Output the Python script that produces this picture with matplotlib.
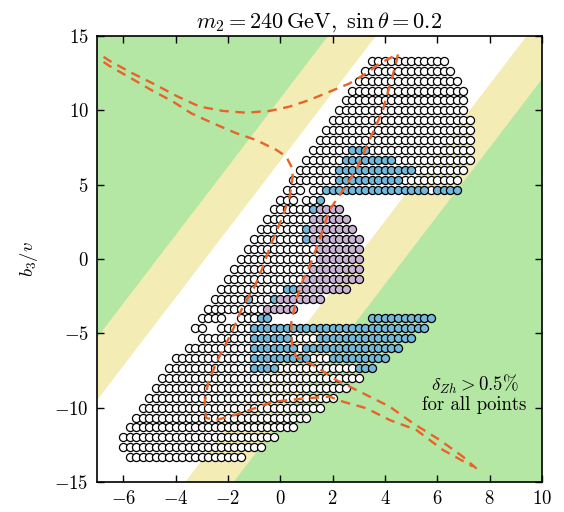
import numpy as np
import matplotlib
matplotlib.use("Agg")
import matplotlib.pyplot as plt

plt.rcParams["font.family"] = "serif"
plt.rcParams["font.serif"] = ["cmr10", "DejaVu Serif"]
plt.rcParams["mathtext.fontset"] = "cm"
plt.rcParams["axes.formatter.use_mathtext"] = True
plt.rcParams["axes.unicode_minus"] = True

# scan spacing along b4/v
X_STEP = 0.25

# allowed-region bands: b3/v = SLOPE * x + offset
SLOPE = 2.3
WHITE_BAND = (-6.65, 6.6)
YELLOW_BAND = (-10.9, 10.8)

# scan points, as runs (b3/v, first x, last x) per category
white_runs = [
    (13.33, 3.5, 6.25), (12.67, 3.25, 6.5), (12.0, 3.0, 6.75), (11.33, 2.75, 7.0),
    (10.67, 2.5, 7.0), (10.0, 2.25, 7.0), (9.33, 2.0, 7.25), (8.67, 1.75, 7.25),
    (8.0, 1.5, 7.25),
    (7.33, 1.25, 2.5), (7.33, 3.5, 7.25),
    (6.67, 1.0, 2.25), (6.67, 4.5, 7.25),
    (6.0, 0.75, 2.0), (6.0, 5.25, 7.0),
    (5.33, 0.5, 2.0), (5.33, 4.75, 6.75),
    (4.67, 0.25, 0.75), (4.67, 1.25, 1.5), (4.67, 5.75, 5.75),
    (4.0, 0.0, 0.5), (4.0, 1.0, 1.25),
    (3.33, -0.25, 1.0),
    (2.67, -0.5, 1.0),
    (2.0, -0.75, 0.75),
    (1.33, -1.0, 0.75),
    (0.67, -1.25, 1.25),
    (0.0, -1.5, 1.25),
    (-0.67, -1.75, 1.0),
    (-1.33, -2.0, 0.75),
    (-2.0, -2.25, 0.0),
    (-2.67, -2.5, -1.5), (-2.67, -1.0, -0.5),
    (-3.33, -2.75, -0.75),
    (-4.0, -3.0, -2.25), (-4.0, -1.5, -1.0),
    (-4.67, -3.25, -3.0), (-4.67, -2.25, -1.25),
    (-5.33, -3.0, -1.25), (-5.33, 0.5, 1.25),
    (-6.0, -3.5, -1.25), (-6.0, 0.75, 0.75),
    (-6.67, -4.0, -1.25), (-6.67, 1.25, 1.75),
    (-7.33, -4.25, -1.25), (-7.33, 0.0, 2.75),
    (-8.0, -4.5, 3.0), (-8.67, -4.75, 2.5), (-9.33, -5.0, 2.0),
    (-10.0, -5.25, 1.5), (-10.67, -5.5, 1.0), (-11.33, -5.75, 0.5),
    (-12.0, -6.0, -0.25), (-12.67, -6.0, -0.75), (-13.33, -5.75, -1.5),
]

blue_runs = [
    (7.33, 2.75, 3.25), (6.67, 2.5, 4.25), (6.0, 2.25, 5.0), (5.33, 2.25, 4.5),
    (4.67, 1.75, 5.5), (4.67, 6.0, 6.75), (4.0, 1.5, 1.5), (3.33, 1.25, 1.25),
    (2.0, 1.0, 1.0), (1.33, 1.0, 1.0), (-2.0, 0.25, 0.5),
    (-2.67, -1.25, -1.25), (-2.67, -0.25, -0.25),
    (-4.0, -0.75, -0.5), (-4.0, 3.5, 5.75),
    (-4.67, -1.0, 5.5),
    (-5.33, -1.0, 0.25), (-5.33, 1.5, 5.0),
    (-6.0, -1.0, 0.5), (-6.0, 1.0, 4.5),
    (-6.67, -1.0, 1.0), (-6.67, 2.0, 4.0),
    (-7.33, -1.0, -0.25), (-7.33, 3.0, 3.5),
]

purple_runs = [
    (3.33, 1.5, 2.25), (2.67, 1.25, 2.5), (2.0, 1.25, 2.75), (1.33, 1.25, 3.0),
    (0.67, 1.5, 3.0), (0.0, 1.5, 3.0), (-0.67, 1.25, 3.0), (-1.33, 1.0, 3.0),
    (-2.0, 0.75, 2.5), (-2.67, 0.0, 1.5), (-3.33, -0.5, 0.5),
]

# dashed contours
contour_a_x = [-6.75, -6.52, -5.69, -4.8, -3.91, -3.08, -2.19, -1.3, -0.41, 0.36, 1.12,
               1.88, 2.65, 3.29, 3.8, 4.18, 4.5,
               4.43, 3.92, 3.41, 2.9, 2.39, 1.88, 1.5, 1.12, 0.87, 0.61, 0.42, 0.45,
               0.61, 1.37, 2.14, 3.16, 4.18, 5.07, 6.09, 6.98, 7.5]
contour_a_y = [13.6, 13.33, 12.53, 11.75, 10.92, 10.25, 9.96, 9.84, 9.96, 10.25, 10.7,
               11.25, 11.81, 12.49, 13.16, 13.5, 13.8,
               13.2, 10.0, 8.0, 6.0, 4.6, 3.3, 1.3, -0.5, -1.4, -2.75, -4.3, -5.9,
               -6.6, -7.24, -8.14, -9.03, -9.93, -11.05, -12.17, -13.3, -14.1]
contour_b_x = [-6.75, -6.52, -5.69, -4.93, -4.1, -3.4, -2.57, -1.68, -0.92, -0.15,
               0.23, 0.42, 0.48, 0.36, 0.04, -0.34,
               -0.66, -0.98, -1.43, -1.81, -2.13, -2.45, -2.76, -2.89, -2.83, -2.45,
               -1.55, -0.28, 0.99, 1.88, 2.4, 3.29, 4.18, 5.2, 6.22, 7.36]
contour_b_y = [13.25, 12.98, 12.15, 11.37, 10.59, 9.8, 9.13, 8.46, 8.0, 7.34,
               6.89, 6.22, 5.55, 4.2, 2.62, 1.05,
               -0.52, -1.86, -3.2, -4.77, -5.9, -7.0, -8.36, -9.7, -10.7, -10.83,
               -10.4, -9.6, -9.37, -9.26, -9.6, -10.04, -10.83, -11.5, -12.85, -13.96]

GREEN = "#b5e7a4"
YELLOW = "#f4ecb5"
BLUE = "#72b9dc"
PURPLE = "#cbb3d6"
ORANGE = "#e8632a"


def expand(runs):
    xs, ys = [], []
    for y, x0, x1 in runs:
        pts = np.arange(x0, x1 + 1e-6, X_STEP)
        xs.extend(pts)
        ys.extend([y] * len(pts))
    return np.array(xs), np.array(ys)


fig = plt.figure(figsize=(5.64, 5.12), dpi=100)
ax = fig.add_axes([0.172, 0.0586, 0.789, 0.8711])
ax.set_xlim(-7, 10)
ax.set_ylim(-15, 15)
ax.set_facecolor(GREEN)

xb = np.array([-7.0, 10.0])
ax.fill_between(xb, SLOPE * xb + YELLOW_BAND[0], SLOPE * xb + YELLOW_BAND[1],
                color=YELLOW, lw=0, zorder=0.5)
ax.fill_between(xb, SLOPE * xb + WHITE_BAND[0], SLOPE * xb + WHITE_BAND[1],
                color="white", lw=0, zorder=0.6)

for runs, col in [(white_runs, "white"), (blue_runs, BLUE), (purple_runs, PURPLE)]:
    px, py = expand(runs)
    ax.scatter(px, py, s=34, facecolor=col, edgecolor="black", linewidths=0.9,
               zorder=2)

for cx, cy in [(contour_a_x, contour_a_y), (contour_b_x, contour_b_y)]:
    ax.plot(cx, cy, color=ORANGE, lw=1.7, dashes=(4, 2.8), zorder=3)

ax.text(7.42, -9.05, "$\\delta_{Zh} > 0.5\\%$\nfor all points", ha="center",
        va="center", fontsize=13.5, linespacing=1.05, multialignment="center")

ax.set_xticks(np.arange(-6, 11, 2))
ax.set_yticks(np.arange(-15, 16, 5))
ax.tick_params(direction="in", length=5, width=1, top=True, right=True,
               labelsize=13.5, pad=6)
for s in ax.spines.values():
    s.set_linewidth(1.2)

ax.set_ylabel(r"$b_3/v$", fontsize=13.5, labelpad=10)
ax.set_title(r"$m_2 = 240\,\mathrm{GeV},\ \sin\theta = 0.2$", fontsize=16, pad=6)

fig.savefig("out.png", dpi=100)
